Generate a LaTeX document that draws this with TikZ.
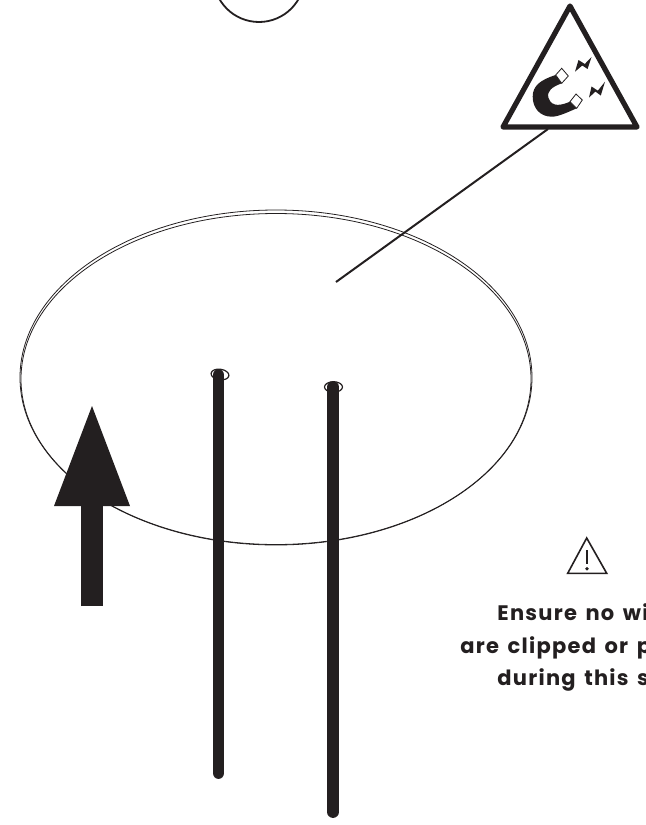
\documentclass[tikz,border=0pt]{standalone}
\usepackage{fontspec}
\setmainfont{Poppins}[WordSpace=1.5]
\usetikzlibrary{arrows.meta,shapes.geometric}
\definecolor{tinta}{HTML}{231F20}
\begin{document}
\begin{tikzpicture}[
  x=0.5pt,y=-0.5pt,
  contorno/.style={draw=tinta,ellipse,line width=0.4pt,inner sep=0pt,outer sep=0pt},
  fio/.style={draw=tinta,line width=5.9pt,line cap=round},
  anel/.style={draw=tinta,ellipse,line width=0.6pt,inner sep=0pt,minimum width=9pt,minimum height=5.3pt},
  seta/.style={-{Triangle[length=50pt,width=38pt,line width=0pt]},tinta,line width=10.7pt},
  aviso/.style={anchor=base west,inner sep=0pt,font=\fontsize{10.5}{13}\selectfont\addfontfeature{LetterSpace=6}\bfseries,text=tinta},
  polo/.style={draw=tinta,fill=white,line width=0.4pt},
  raio/.style={fill=tinta,draw=none}
]
  \useasboundingbox (0,0) rectangle (646,825);
  \clip (0,0) rectangle (646,825);
  % loop and disc
  \node[contorno,minimum width=256pt,minimum height=167.5pt] (disco) at (276,377.5) {};
  \node[contorno,minimum width=255pt,minimum height=165.5pt] (discoin) at (276,379) {};
  \node[draw=tinta,circle,line width=0.9pt,inner sep=0pt,minimum size=45.6pt] (topo) at (259,-23.6) {};
  % wires
  \coordinate (fioAtopo) at (218.5,375);
  \coordinate (fioAbase) at (218.5,773);
  \coordinate (fioBtopo) at (333,387);
  \coordinate (fioBbase) at (333,812);
  \draw[fio] (fioAtopo) -- (fioAbase);
  \draw[fio] (fioBtopo) -- (fioBbase);
  \node[anel,rotate=-8] (anelA) at (220,374.5) {};
  \node[anel] (anelB) at (333.5,387) {};
  % big arrow
  \coordinate (setaBase) at (92,606);
  \coordinate (setaPonta) at (92,406);
  \draw[seta] (setaBase) -- (setaPonta);
  % magnet sign
  \coordinate (sinalA) at (570,6);
  \coordinate (sinalB) at (637,127);
  \coordinate (sinalC) at (503,127);
  \draw[tinta,line width=2.6pt,line join=round] (sinalA) -- (sinalB) -- (sinalC) -- cycle;
  \coordinate (sinalPe) at (548,129);
  \coordinate (sinalFim) at (336,282);
  \draw[tinta,line width=1pt] (sinalPe) -- (sinalFim);
  \fill[tinta] (555.7,75) .. controls (540,80) and (532.7,86) .. (532.7,96.7)
    .. controls (532.7,108) and (540,116.7) .. (551.7,116.7)
    .. controls (558,116.7) and (566,113) .. (576.7,108.3) -- (570,101.7)
    .. controls (562,105) and (552,108) .. (548.5,98)
    .. controls (546.5,91) and (552,87) .. (561.7,83.3) -- cycle;
  \draw[polo] (555.7,75) -- (561.7,68.3) -- (568.3,76) -- (561.7,83.3) -- cycle;
  \draw[polo] (570,101.7) -- (576,94) -- (582.3,100) -- (576.7,108.3) -- cycle;
  \fill[raio] (575,71.7) -- (578.5,60) -- (584.8,64) -- (591.5,57) -- (587.5,69) -- (582.3,65.5) -- cycle;
  \fill[raio] (589,97.7) -- (591.5,86.5) -- (597.8,90.7) -- (605,81.7) -- (600.8,95.5) -- (595.3,91.5) -- cycle;
  % warning
  \draw[tinta,line width=0.8pt] (586.7,538) -- (606.7,573.3) -- (567.7,573.3) -- cycle;
  \draw[tinta,line width=0.7pt] (587,550) -- (587,564);
  \fill[tinta] (587,568.7) circle[radius=0.9pt];
  \node[aviso] (linhaA) at (497,620) {Ensure no wi};
  \node[aviso] (linhaB) at (460,653) {are clipped or p};
  \node[aviso] (linhaC) at (497,685) {during this s};
\end{tikzpicture}
\end{document}
